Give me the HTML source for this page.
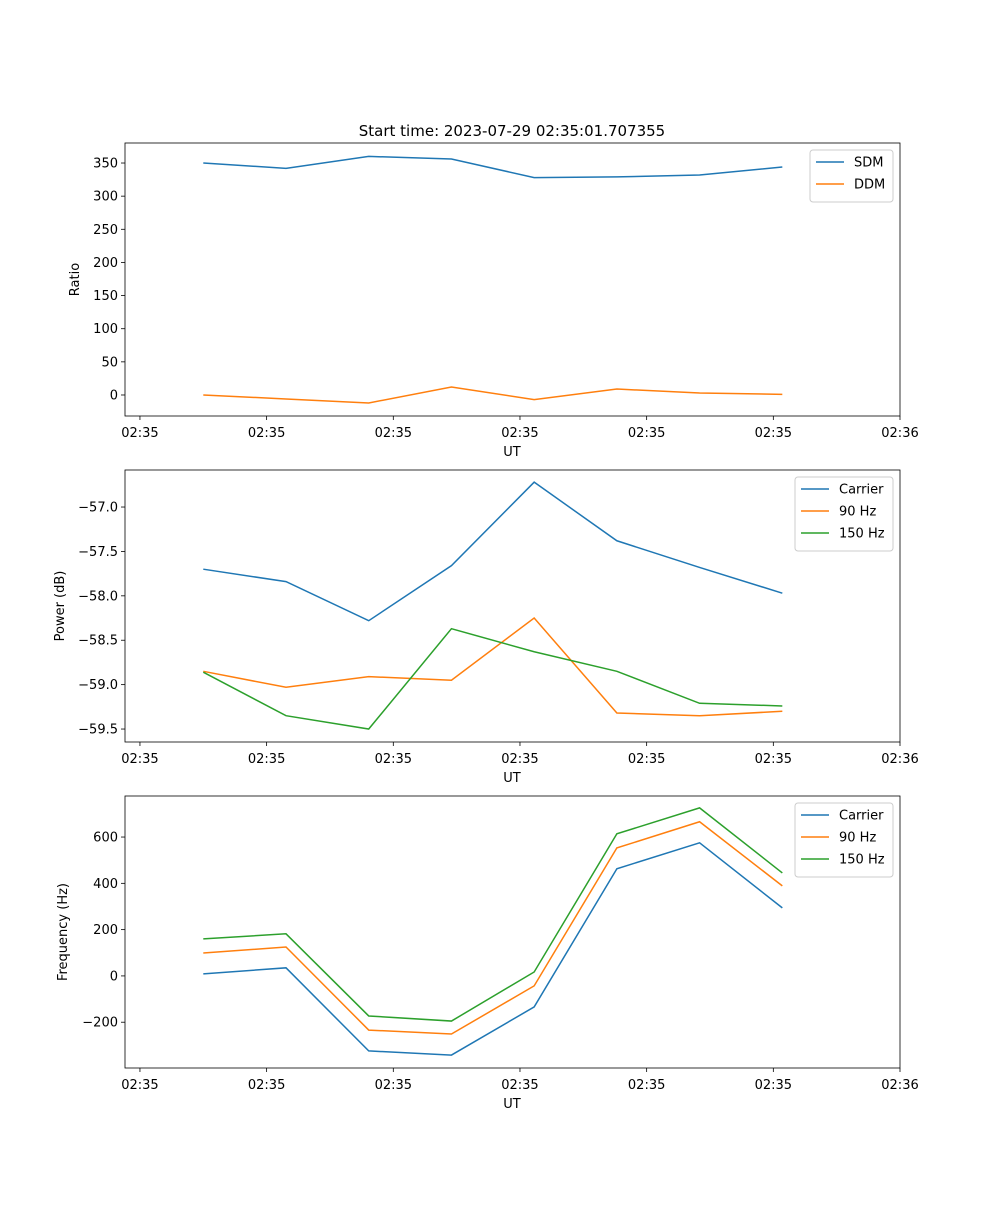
<!DOCTYPE html>
<html><head><meta charset="utf-8"><style>
body{margin:0;background:#fff}
svg text{font-family:"DejaVu Sans","Liberation Sans",sans-serif;font-size:13px;fill:#000}
</style></head><body>
<svg id="fig" width="1000" height="1200" xmlns="http://www.w3.org/2000/svg">
<text x="512" y="136" text-anchor="middle" font-size="15" style="font-size:15px">Start time: 2023-07-29 02:35:01.707355</text>
</svg>
<script>
const times = [5.0, 11.53, 18.06, 24.59, 31.12, 37.65, 44.18, 50.71];
const xTickVals = [0, 10, 20, 30, 40, 50, 60];
const xTickLabels = ["02:35","02:35","02:35","02:35","02:35","02:35","02:36"];
const sdm = [350, 342, 360, 356, 328, 329, 332, 344];
const ddm = [0, -6, -12, 12, -7, 9, 3, 1];
const powCarrier = [-57.70, -57.84, -58.28, -57.66, -56.72, -57.38, -57.68, -57.97];
const pow90 = [-58.85, -59.03, -58.91, -58.95, -58.25, -59.32, -59.35, -59.30];
const pow150 = [-58.86, -59.35, -59.50, -58.37, -58.63, -58.85, -59.21, -59.24];
const freqCarrier = [9, 35, -324, -342, -134, 463, 575, 294];
const freq90 = [99, 125, -234, -251, -43, 553, 666, 389];
const freq150 = [160, 182, -173, -195, 17, 614, 726, 445];
const ratioTicks = [0, 50, 100, 150, 200, 250, 300, 350];
const powTicks = [-59.5, -59.0, -58.5, -58.0, -57.5, -57.0];
const freqTicks = [-200, 0, 200, 400, 600];

const NS="http://www.w3.org/2000/svg";
const svg=document.getElementById('fig');
const C1="#1f77b4",C2="#ff7f0e",C3="#2ca02c";
function mk(tag,attrs,parent){const e=document.createElementNS(NS,tag);for(const k in attrs)e.setAttribute(k,attrs[k]);(parent||svg).appendChild(e);return e;}
const L=125,R=900,X0=-1.18,X1=60.0;
function xs(v){return L+(v-X0)/(X1-X0)*(R-L);}

function panel(name,top,bot,y0,y1,ticks,fmt,series,ylabel,ylx,legend){
  const g=mk('g',{});
  
  
  const ys=v=>bot-(v-y0)/(y1-y0)*(bot-top);
  ticks.forEach(t=>{
    const y=ys(t);
    mk('line',{x1:L-4,x2:L,y1:y,y2:y,stroke:'#000','stroke-width':0.8},g);
    const tx=mk('text',{x:L-7,y:y+4.5,'text-anchor':'end'},g);tx.textContent=fmt(t);
    
    
  });
  xTickVals.forEach((t,i)=>{
    const x=xs(t);
    mk('line',{x1:x,x2:x,y1:bot,y2:bot+4,stroke:'#000','stroke-width':0.8},g);
    const tx=mk('text',{x:x,y:bot+21,'text-anchor':'middle'},g);tx.textContent=xTickLabels[i];
    
    
  });
  series.forEach(s=>{
    const p=mk('polyline',{points:s.v.map((v,i)=>xs(times[i])+','+ys(v)).join(' '),fill:'none',stroke:s.c,'stroke-width':1.5},g);
    
    
  });
  mk('rect',{x:L,y:top,width:R-L,height:bot-top,fill:'none',stroke:'#000','stroke-width':0.8},g);
  const xl=mk('text',{x:512,y:bot+40,'text-anchor':'middle'},g);xl.textContent='UT';
  
  
  const yl=mk('text',{x:ylx,y:(top+bot)/2,'text-anchor':'middle',transform:`rotate(-90 ${ylx} ${(top+bot)/2})`},g);yl.textContent=ylabel;
  
  
  const lg=mk('g',{},g);
  
  
  mk('rect',{x:legend.x,y:top+7,width:R-7-legend.x,height:8+series.length*22,rx:3,fill:'#fff','fill-opacity':0.8,stroke:'#ccc'},lg);
  series.forEach((s,i)=>{
    const y=top+19+i*22;
    mk('line',{x1:legend.x+6,x2:legend.x+34,y1:y,y2:y,stroke:s.c,'stroke-width':1.5},lg);
    const t=mk('text',{x:legend.x+44,y:y+4.5},lg);t.textContent=s.label;
    
    
  });
}
panel('ratio-panel',143,416,-31.7,380.2,ratioTicks,v=>String(v),
  [{v:sdm,c:C1,n:'sdm-line',label:'SDM'},{v:ddm,c:C2,n:'ddm-line',label:'DDM'}],'Ratio',79,{x:810});
panel('power-panel',470,742,-59.646,-56.583,powTicks,v=>'\u2212'+Math.abs(v).toFixed(1),
  [{v:powCarrier,c:C1,n:'power-carrier-line',label:'Carrier'},{v:pow90,c:C2,n:'power-90hz-line',label:'90 Hz'},{v:pow150,c:C3,n:'power-150hz-line',label:'150 Hz'}],'Power (dB)',64,{x:795});
panel('frequency-panel',796,1068,-397.8,777.3,freqTicks,v=>(v<0?'\u2212':'')+Math.abs(v),
  [{v:freqCarrier,c:C1,n:'freq-carrier-line',label:'Carrier'},{v:freq90,c:C2,n:'freq-90hz-line',label:'90 Hz'},{v:freq150,c:C3,n:'freq-150hz-line',label:'150 Hz'}],'Frequency (Hz)',67,{x:795});
</script>
</body></html>
